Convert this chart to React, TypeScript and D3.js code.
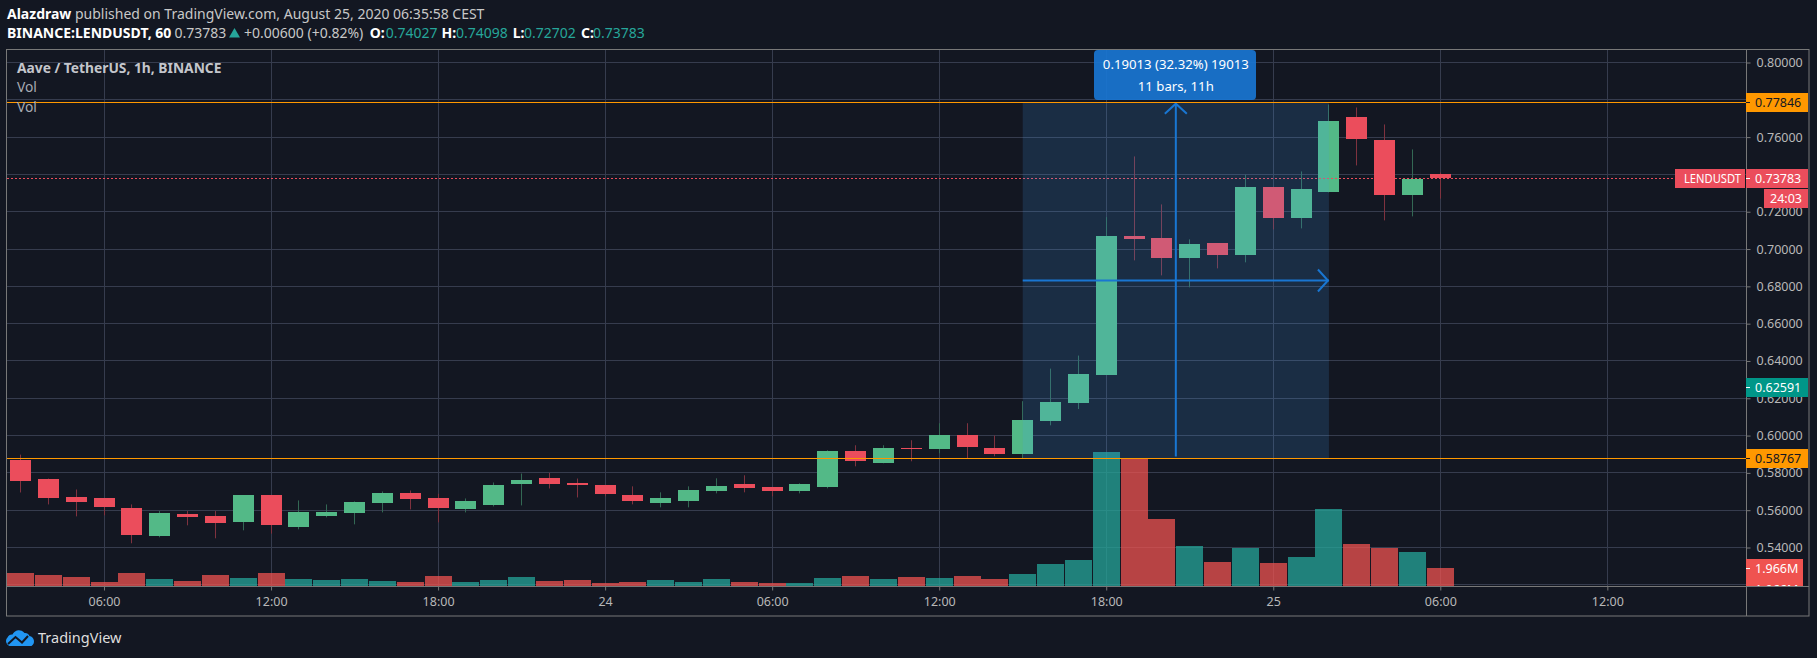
import React, { useEffect, useRef } from "react";
import * as d3 from "d3";

// hours counted from Aug 23 00:00, one bar per hour
const firstHour = 3;
const opens = [
  0.58712, 0.57697, 0.56683, 0.56629, 0.56095, 0.546, 0.55775, 0.55668, 0.55348, 0.5679, 0.55081, 0.55668,
  0.55828, 0.56362, 0.56896, 0.56629, 0.56042, 0.56256, 0.5743, 0.57751, 0.57484, 0.57333, 0.56796, 0.56366,
  0.56474, 0.57011, 0.57387, 0.57226, 0.57011, 0.57226, 0.59159, 0.58514, 0.5932, 0.59266, 0.60018, 0.5932,
  0.58998, 0.6077, 0.61748, 0.63261, 0.70678, 0.70571, 0.695, 0.70304, 0.69661, 0.73304, 0.71643, 0.73036,
  0.77054, 0.75821, 0.72875, 0.74027,
];
const closes = [
  0.57591, 0.56629, 0.56416, 0.56149, 0.54654, 0.55828, 0.55615, 0.55294, 0.5679, 0.55188, 0.55882, 0.55882,
  0.56416, 0.56896, 0.56576, 0.56095, 0.56469, 0.57324, 0.57644, 0.5743, 0.57324, 0.5685, 0.56474, 0.56635,
  0.57064, 0.57279, 0.57172, 0.57011, 0.57387, 0.59159, 0.58622, 0.5932, 0.59266, 0.60018, 0.59373, 0.58998,
  0.60823, 0.618, 0.63315, 0.70721, 0.70518, 0.695, 0.7025, 0.69661, 0.73304, 0.71643, 0.73196, 0.76839,
  0.75875, 0.72875, 0.73768, 0.73783,
];
const highs = [
  0.58979, 0.57697, 0.5711, 0.56629, 0.56309, 0.55953, 0.55953, 0.55953, 0.5679, 0.5679, 0.56523, 0.56309,
  0.56469, 0.57003, 0.57057, 0.56879, 0.56629, 0.57484, 0.57964, 0.58, 0.57697, 0.57333, 0.57279, 0.56957,
  0.57279, 0.57709, 0.5787, 0.57226, 0.5744, 0.59212, 0.59481, 0.59481, 0.59749, 0.60662, 0.60662, 0.6,
  0.61844, 0.6359, 0.64288, 0.71714, 0.74964, 0.72393, 0.70518, 0.70304, 0.73982, 0.73304, 0.74161, 0.7775,
  0.77589, 0.76679, 0.75339, 0.74098,
];
const lows = [
  0.5695, 0.56309, 0.55668, 0.55722, 0.54226, 0.54547, 0.55188, 0.54493, 0.54921, 0.54743, 0.54974, 0.55615,
  0.55241, 0.55882, 0.56042, 0.55348, 0.55882, 0.56202, 0.56256, 0.57163, 0.56683, 0.56742, 0.56313, 0.56152,
  0.56152, 0.56903, 0.56957, 0.56742, 0.56903, 0.57172, 0.58353, 0.58514, 0.58622, 0.59051, 0.58765, 0.5889,
  0.58765, 0.6055, 0.61424, 0.63261, 0.69393, 0.68589, 0.67946, 0.68964, 0.69286, 0.71054, 0.71107, 0.73036,
  0.74482, 0.71536, 0.7175, 0.72702,
];
// millions
const volumes = [
  1.42, 1.2, 0.98, 0.44, 1.42, 0.76, 0.55, 1.2, 0.87, 1.42, 0.76, 0.66, 0.76, 0.55, 0.44, 1.09, 0.44, 0.66, 0.98,
  0.55, 0.66, 0.33, 0.44, 0.66, 0.44, 0.76, 0.44, 0.33, 0.33, 0.87, 1.09, 0.76, 0.98, 0.87, 1.09, 0.76, 1.31, 2.4,
  2.84, 14.6, 13.97, 7.3, 4.37, 2.62, 4.15, 2.51, 3.17, 8.4, 4.58, 4.15, 3.71, 1.966,
];

// 0.78 and 0.74 sit fully under the price labels, so they only get a grid line
const priceTicks = [0.8, 0.76, 0.72, 0.7, 0.68, 0.66, 0.64, 0.62, 0.6, 0.58, 0.56, 0.54];
const priceGrid = [...priceTicks, 0.78, 0.74, 0.52];
const timeTicks = [6, 12, 18, 24, 30, 36, 42, 48, 54, 60];
const timeLabels = ["06:00", "12:00", "18:00", "24", "06:00", "12:00", "18:00", "25", "06:00", "12:00"];

const lastPrice = 0.73783;
const levelTop = 0.77846;
const levelBottom = 0.58767;
const otherPrice = 0.62591;
const measureFrom = 39;
const measureTo = 50;

const BG = "#131722";
const GRID = "#363c4e";
const FRAME = "#787878";
const UP = "#53b987";
const DOWN = "#eb4d5c";
const UP_WICK = "#336854";
const DOWN_WICK = "#7f323f";
const ORANGE = "#ff9800";
const BLUE = "#1976d2";
const FONT = "'Noto Sans', sans-serif";

const left = 7;
const right = 1746;
const outerRight = 1809;
const top = 49.5;
const bottom = 586;
const outerBottom = 616;

const x = d3.scaleLinear().domain([firstHour, 54]).range([20.5, 1440.3]);
const y = d3.scaleLinear().domain([0.8, 0.54]).range([62.5, 547.5]);
const vol = d3.scaleLinear().domain([0, 14.6]).range([bottom, 452]);

const px = (v: number) => Math.floor(v) + 0.5;

const PriceBox = ({ price, fill, color, width = 62, text }: any) => {
  const cy = px(y(price));
  return (
    <g>
      <rect x={right} y={cy - 9.5} width={width} height={19} fill={fill} />
      <line x1={right} x2={right + 4} y1={cy} y2={cy} stroke={color} />
      <text x={right + 9} y={cy + 4.5} fill={color} fontSize={12.5} fontFamily={FONT}>
        {text ?? d3.format(".5f")(price)}
      </text>
    </g>
  );
};

export default function App() {
  const yAxisRef = useRef<SVGGElement>(null);
  const xAxisRef = useRef<SVGGElement>(null);

  useEffect(() => {
    const yAxis = d3.select(yAxisRef.current!);
    yAxis.call(
      d3.axisRight(y).tickValues(priceTicks).tickSize(4).tickPadding(6).tickFormat((d) => d3.format(".5f")(d as number)) as any
    );
    const xAxis = d3.select(xAxisRef.current!);
    xAxis.call(
      d3
        .axisBottom(x)
        .tickValues(timeTicks)
        .tickSize(4)
        .tickPadding(7)
        .tickFormat((d, i) => timeLabels[i]) as any
    );
    [yAxis, xAxis].forEach((axis) => {
      axis.select(".domain").remove();
      axis.selectAll("line").attr("stroke", FRAME);
      axis.selectAll("text").attr("fill", "#b8b8b8").attr("font-size", 12.5).attr("font-family", FONT);
    });
  }, []);

  const x1 = x(measureFrom);
  const x2 = x(measureTo);
  const yTop = y(levelTop);
  const yBot = y(levelBottom);
  const midX = (x1 + x2) / 2;
  const midY = px((yTop + yBot) / 2);
  const lastY = px(y(lastPrice));

  return (
    <svg width={1817} height={658} style={{ position: "fixed", left: 0, top: 0, display: "block" }}>
      <defs>
        <clipPath id="vol-clip">
          <rect x={right} y={559} width={57} height={27} />
        </clipPath>
      </defs>
      <rect width={1817} height={658} fill={BG} />

      {/* header */}
      <text x={7} y={19} fontSize={14} fontFamily={FONT} fill="#c8c8c8">
        <tspan fontWeight="bold" fill="#ffffff">Alazdraw</tspan> published on TradingView.com, August 25, 2020 06:35:58 CEST
      </text>
      <g fontSize={14} fontFamily={FONT} fill="#c8c8c8">
        <text x={7} y={38} fontWeight="bold" fill="#ffffff">BINANCE:LENDUSDT, 60</text>
        <text x={174.5} y={38}>0.73783</text>
        <path d="M229 37.5 L234.5 28 L240 37.5 Z" fill="#26a69a" />
        <text x={244} y={38}>+0.00600 (+0.82%)</text>
        <text x={369.7} y={38} fontWeight="bold" fill="#ffffff">O:</text>
        <text x={385.8} y={38} fill="#26a69a">0.74027</text>
        <text x={441.6} y={38} fontWeight="bold" fill="#ffffff">H:</text>
        <text x={456} y={38} fill="#26a69a">0.74098</text>
        <text x={512.8} y={38} fontWeight="bold" fill="#ffffff">L:</text>
        <text x={524} y={38} fill="#26a69a">0.72702</text>
        <text x={581} y={38} fontWeight="bold" fill="#ffffff">C:</text>
        <text x={593} y={38} fill="#26a69a">0.73783</text>
      </g>

      {/* grid */}
      {priceGrid.map((p) => (
        <line key={p} x1={left} x2={right} y1={px(y(p))} y2={px(y(p))} stroke={GRID} />
      ))}
      {timeTicks.map((t) => (
        <line key={t} x1={px(x(t))} x2={px(x(t))} y1={top} y2={bottom} stroke={GRID} />
      ))}

      {/* volume */}
      {volumes.map((v, i) => {
        const cx = x(firstHour + i);
        const up = closes[i] >= opens[i];
        return (
          <rect
            key={i}
            x={Math.max(left, Math.round(cx - 13.5))}
            y={Math.round(vol(v))}
            width={cx - 13.5 < left ? 27 - (left - cx + 13.5) : 27}
            height={bottom - Math.round(vol(v))}
            fill={up ? "#26a69a" : "#ef5350"}
            fillOpacity={0.75}
          />
        );
      })}

      {/* candles */}
      {opens.map((o, i) => {
        const cx = px(x(firstHour + i));
        const c = closes[i];
        const up = c >= o;
        const bodyTop = Math.round(y(Math.max(o, c)));
        const bodyBottom = Math.round(y(Math.min(o, c)));
        return (
          <g key={i}>
            <line x1={cx} x2={cx} y1={y(highs[i])} y2={y(lows[i])} stroke={up ? UP_WICK : DOWN_WICK} />
            <rect
              x={cx - 10.5}
              y={bodyTop}
              width={21}
              height={Math.max(1, bodyBottom - bodyTop)}
              fill={up ? UP : DOWN}
            />
          </g>
        );
      })}

      <line x1={left} x2={1675} y1={lastY} y2={lastY} stroke={DOWN} strokeDasharray="2 2" />

      {/* measure tool */}
      <rect x={x1} y={yTop} width={x2 - x1} height={yBot - yTop} fill="#45a0f6" fillOpacity={0.16} />
      <g stroke={BLUE} strokeWidth={2} fill="none">
        <line x1={midX} x2={midX} y1={yBot - 2} y2={yTop + 1} />
        <path d={`M${midX - 11} ${yTop + 11} L${midX} ${yTop + 1} L${midX + 11} ${yTop + 11}`} />
        <line x1={x1} x2={x2} y1={midY} y2={midY} />
        <path d={`M${x2 - 11} ${midY - 11} L${x2 - 1} ${midY} L${x2 - 11} ${midY + 11}`} />
      </g>
      <rect x={1094} y={50} width={162} height={50} rx={4} fill={BLUE} fillOpacity={0.92} />
      <g fontSize={13.2} fontFamily={FONT} fill="#ffffff" textAnchor="middle">
        <text x={midX} y={69}>0.19013 (32.32%) 19013</text>
        <text x={midX} y={91}>11 bars, 11h</text>
      </g>

      {/* levels */}
      <line x1={left} x2={right} y1={px(yTop)} y2={px(yTop)} stroke={ORANGE} />
      <line x1={left} x2={right} y1={px(yBot)} y2={px(yBot)} stroke={ORANGE} />

      {/* legend */}
      <g fontSize={13.8} fontFamily={FONT}>
        <text x={17} y={72.5} fontWeight="bold" fill="#c4c6cc">Aave / TetherUS, 1h, BINANCE</text>
        <text x={17} y={92} fill="#a8abb3">Vol</text>
        <text x={17} y={111.5} fill="#a8abb3">Vol</text>
      </g>

      {/* frame and axes */}
      <rect x={left - 0.5} y={top} width={outerRight - left + 0.5} height={outerBottom - top} fill="none" stroke={FRAME} />
      <line x1={right + 0.5} x2={right + 0.5} y1={top} y2={outerBottom} stroke={FRAME} />
      <line x1={left} x2={outerRight} y1={bottom + 0.5} y2={bottom + 0.5} stroke={FRAME} />
      <g ref={yAxisRef} transform={`translate(${right + 0.5},0)`} />
      <g ref={xAxisRef} transform={`translate(0,${bottom + 0.5})`} />

      {/* price labels */}
      <PriceBox price={levelTop} fill={ORANGE} color={BG} />
      <PriceBox price={levelBottom} fill={ORANGE} color={BG} />
      <PriceBox price={otherPrice} fill="#009688" color="#ffffff" />
      <PriceBox price={lastPrice} fill={DOWN} color="#ffffff" />
      <rect x={1675} y={lastY - 9.5} width={70} height={19} fill={DOWN} />
      <text
        x={1684}
        y={lastY + 4.5}
        fontSize={12.5}
        fontFamily={FONT}
        fill="#ffffff"
        textLength={57}
        lengthAdjust="spacingAndGlyphs"
      >
        LENDUSDT
      </text>
      <rect x={1764} y={189} width={44} height={19} fill={DOWN} />
      <text x={1786} y={203} fontSize={12.5} fontFamily={FONT} fill="#ffffff" textAnchor="middle">24:03</text>
      <rect x={right} y={559} width={57} height={27} fill="#ef5350" />
      <line x1={right} x2={right + 4} y1={568.5} y2={568.5} stroke="#ffffff" />
      <g clipPath="url(#vol-clip)" fontSize={12.5} fontFamily={FONT} fill="#ffffff">
        <text x={right + 9} y={573}>1.966M</text>
        <text x={right + 9} y={594}>1.966M</text>
      </g>

      {/* logo */}
      <g>
        <path
          d="M11 646 a5 5 0 0 1 -3.5 -8.5 a5 5 0 0 1 5 -3 a7 7 0 0 1 12 -1.5 a5 5 0 0 1 5 3 a5.5 5.5 0 0 1 2 10 Z"
          fill="#2196f3"
        />
        <path d="M8 644 L15.5 637 L22 642.5 L28 636" stroke={BG} strokeWidth={2} fill="none" />
        <text x={38} y={642.5} fontSize={14.5} fontFamily={FONT} fill="#dedede">TradingView</text>
      </g>
    </svg>
  );
}
